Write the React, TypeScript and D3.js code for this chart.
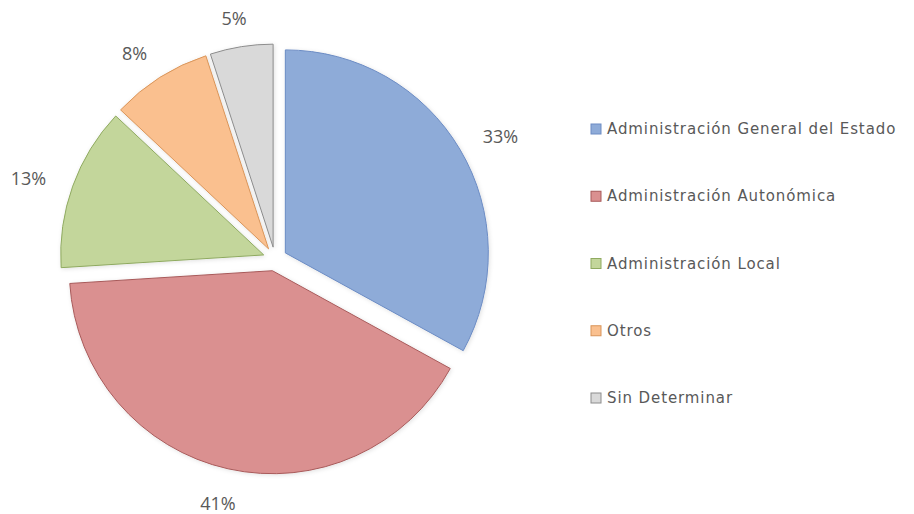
import React from "react";
import * as d3 from "d3";

const categories = [
  "Administración General del Estado",
  "Administración Autonómica",
  "Administración Local",
  "Otros",
  "Sin Determinar",
];
const values = [33, 41, 13, 8, 5];
const fills = ["#8EABD8", "#DA9090", "#C3D69B", "#FAC08F", "#D9D9D9"];
const strokes = ["#6C8CC4", "#A85A5A", "#8FAA60", "#D9955A", "#8C8C8C"];

const W = 914;
const H = 514;
const cx = 275;
const cy = 259;
const R = 203;
const explode = 12;
const labelRx = 262;
const labelRy = 247;

export default function App() {
  const pie = d3.pie<number>().sort(null).value((d) => d)(values);
  const arc = d3.arc<d3.PieArcDatum<number>>().innerRadius(0).outerRadius(R);
  const total = d3.sum(values);

  const legendY = d3
    .scalePoint<string>()
    .domain(categories)
    .range([129, 398]);

  return (
    <svg
      width={W}
      height={H}
      style={{ position: "absolute", left: 0, top: 0, background: "#fff" }}
    >
      <defs>
        <filter id="glow" x="-10%" y="-10%" width="120%" height="120%">
          <feGaussianBlur in="SourceAlpha" stdDeviation="2" />
          <feOffset dx="1" dy="1" result="b" />
          <feFlood floodColor="#000" floodOpacity="0.12" />
          <feComposite in2="b" operator="in" />
          <feMerge>
            <feMergeNode />
            <feMergeNode in="SourceGraphic" />
          </feMerge>
        </filter>
      </defs>
      <g transform={`translate(${cx},${cy})`}>
        {pie.map((p, i) => {
          const mid = (p.startAngle + p.endAngle) / 2;
          const dx = Math.sin(mid) * explode;
          const dy = -Math.cos(mid) * explode;
          return (
            <path
              key={i}
              d={arc(p) || ""}
              transform={`translate(${dx},${dy})`}
              fill={fills[i]}
              stroke={strokes[i]}
              strokeWidth={1}
              filter="url(#glow)"
            />
          );
        })}
        {pie.map((p, i) => {
          const mid = (p.startAngle + p.endAngle) / 2;
          const x = Math.sin(mid) * labelRx;
          const y = -Math.cos(mid) * labelRy + 3;
          return (
            <text
              key={"l" + i}
              x={x}
              y={y}
              textAnchor="middle"
              dominantBaseline="central"
              fontFamily="'Open Sans', sans-serif"
              fontSize={18}
              fill="#595959"
            >
              {`${Math.round((values[i] / total) * 100)}%`}
            </text>
          );
        })}
      </g>
      <g>
        {categories.map((c, i) => {
          const y = legendY(c) as number;
          return (
            <g key={c} transform={`translate(591,${y})`}>
              <rect
                x={0}
                y={-5}
                width={10}
                height={10}
                fill={fills[i]}
                stroke={strokes[i]}
                strokeWidth={1}
              />
              <text
                x={16}
                y={0}
                dominantBaseline="central"
                fontFamily="'DejaVu Sans', sans-serif"
                fontSize={15}
                letterSpacing={0.9}
                fill="#595959"
              >
                {c}
              </text>
            </g>
          );
        })}
      </g>
    </svg>
  );
}
